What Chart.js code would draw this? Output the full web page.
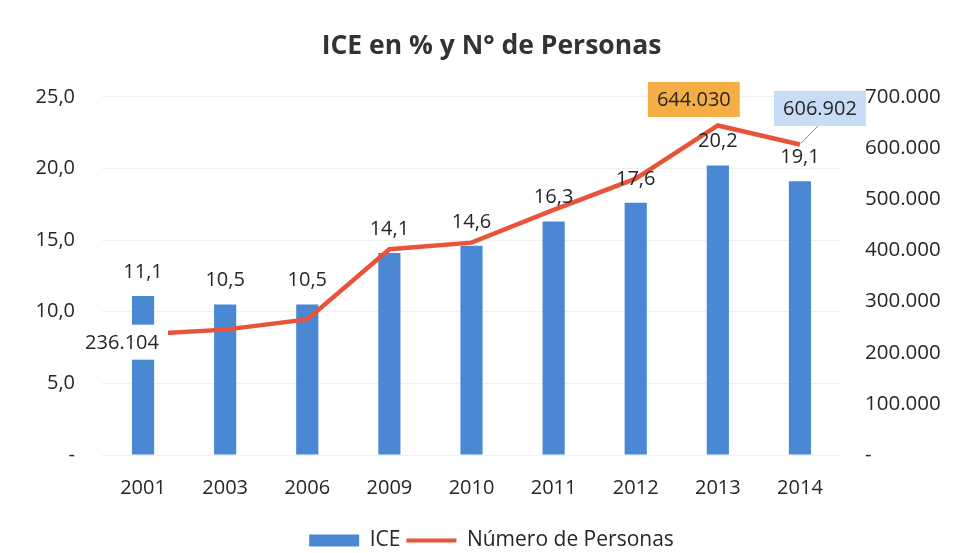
<!DOCTYPE html>
<html>
<head>
<meta charset="utf-8">
<script src="https://cdn.jsdelivr.net/npm/chart.js@4"></script>
<style>
  html, body { margin: 0; padding: 0; background: #fff; }
  #wrap { width: 953px; height: 553px; }
</style>
</head>
<body>
<div id="wrap"><canvas id="iceChart" width="953" height="553"></canvas></div>
<script>
// data
const years = ['2001', '2003', '2006', '2009', '2010', '2011', '2012', '2013', '2014'];
const ice = [11.1, 10.5, 10.5, 14.1, 14.6, 16.3, 17.6, 20.2, 19.1];
const personas = [236104, 245000, 265000, 402000, 415000, 479000, 540000, 644030, 606902];
const iceTicks = [0, 5, 10, 15, 20, 25];
const personasTicks = [0, 100000, 200000, 300000, 400000, 500000, 600000, 700000];
// which line points get a boxed label, and how
const personasLabels = [
  { i: 0, fill: '#ffffff', dx: -21, dy: 8 },
  { i: 7, fill: '#F4AE45', dx: -24, dy: -26 },
  { i: 8, fill: '#C8DDF5', dx: 20, dy: -36, leader: true }
];

const FONT = "'Open Sans', 'Liberation Sans', sans-serif";
const BLUE = '#4A88D4';
const RED = '#E8533A';
const TXT = '#262626';

const fmtIce = v => v === 0 ? '-' : v.toFixed(1).replace('.', ',');
const fmtPers = v => v === 0 ? '-' : Math.round(v).toString().replace(/\B(?=(\d{3})+(?!\d))/g, '.');

// draws the value labels (no datalabels plugin available)
const valueLabels = {
  id: 'valueLabels',
  afterLayout(chart) {
    // title and legend sit a bit right of the canvas centre in the original
    chart.titleBlock.left += 15;
    chart.titleBlock.right += 15;
    chart.legend.left += 15;
    chart.legend.right += 15;
  },
  afterDatasetsDraw(chart) {
    const ctx = chart.ctx;
    ctx.save();
    ctx.font = '20px ' + FONT;
    ctx.fillStyle = TXT;
    ctx.textAlign = 'center';
    ctx.textBaseline = 'middle';

    const bars = chart.getDatasetMeta(0).data;
    bars.forEach((bar, i) => {
      ctx.fillText(fmtIce(ice[i]), bar.x, bar.y - 24);
    });

    const pts = chart.getDatasetMeta(1).data;
    personasLabels.forEach(l => {
      const p = pts[l.i];
      const text = fmtPers(personas[l.i]);
      const cx = p.x + l.dx, cy = p.y + l.dy;
      const w = ctx.measureText(text).width + 18;
      const h = 35;
      if (l.leader) {
        ctx.strokeStyle = '#8a8a8a';
        ctx.lineWidth = 1;
        ctx.beginPath();
        ctx.moveTo(cx - 2, cy + h / 2);
        ctx.lineTo(p.x + 1, p.y - 1);
        ctx.stroke();
      }
      ctx.fillStyle = l.fill;
      ctx.fillRect(cx - w / 2, cy - h / 2, w, h);
      ctx.fillStyle = TXT;
      ctx.fillText(text, cx, cy + 1);
    });
    ctx.restore();
  }
};

new Chart(document.getElementById('iceChart'), {
  data: {
    labels: years,
    datasets: [
      {
        type: 'bar',
        label: 'ICE',
        data: ice,
        backgroundColor: BLUE,
        barPercentage: 0.27,
        categoryPercentage: 1,
        yAxisID: 'y',
        order: 1
      },
      {
        type: 'line',
        label: 'Número de Personas',
        data: personas,
        borderColor: RED,
        backgroundColor: RED,
        borderWidth: 4.5,
        pointRadius: 0,
        tension: 0,
        yAxisID: 'y2',
        order: 0
      }
    ]
  },
  options: {
    responsive: false,
    animation: false,
    layout: { padding: { top: 0, bottom: -8, left: 0, right: 0 } },
    scales: {
      x: {
        afterFit: s => { s.height += 3; },
        grid: { display: false, drawTicks: false },
        border: { display: false },
        ticks: { color: TXT, font: { family: FONT, size: 20 }, padding: 21 }
      },
      y: {
        position: 'left',
        min: 0,
        max: 25,
        afterBuildTicks: s => { s.ticks = iceTicks.map(v => ({ value: v })); },
        afterFit: s => { s.width = 102; },
        grid: { color: '#f0f0f0', drawTicks: false },
        border: { display: false },
        ticks: { color: TXT, font: { family: FONT, size: 20 }, padding: 27, callback: v => fmtIce(v) }
      },
      y2: {
        position: 'right',
        min: 0,
        max: 700000,
        afterBuildTicks: s => { s.ticks = personasTicks.map(v => ({ value: v })); },
        afterFit: s => { s.width = 112; },
        grid: { display: false, drawTicks: false },
        border: { display: false },
        ticks: { color: TXT, font: { family: FONT, size: 20.5 }, padding: 24, callback: v => fmtPers(v) }
      }
    },
    plugins: {
      title: {
        display: true,
        text: 'ICE en % y N° de Personas',
        color: '#333333',
        font: { family: FONT, size: 26.5, weight: 'bold' },
        padding: { top: 31, bottom: 34 }
      },
      legend: {
        display: true,
        position: 'bottom',
        labels: {
          color: TXT,
          font: { family: FONT, size: 21 },
          usePointStyle: true,
          pointStyleWidth: 50,
          boxHeight: 12,
          padding: 6,
          generateLabels: () => [
            { text: 'ICE', fillStyle: BLUE, strokeStyle: BLUE, lineWidth: 0, pointStyle: 'rect', datasetIndex: 0, fontColor: TXT },
            { text: 'Número de Personas', fillStyle: RED, strokeStyle: RED, lineWidth: 4, pointStyle: 'line', datasetIndex: 1, fontColor: TXT }
          ]
        }
      },
      tooltip: { enabled: false }
    }
  },
  plugins: [valueLabels]
});
</script>
</body>
</html>
